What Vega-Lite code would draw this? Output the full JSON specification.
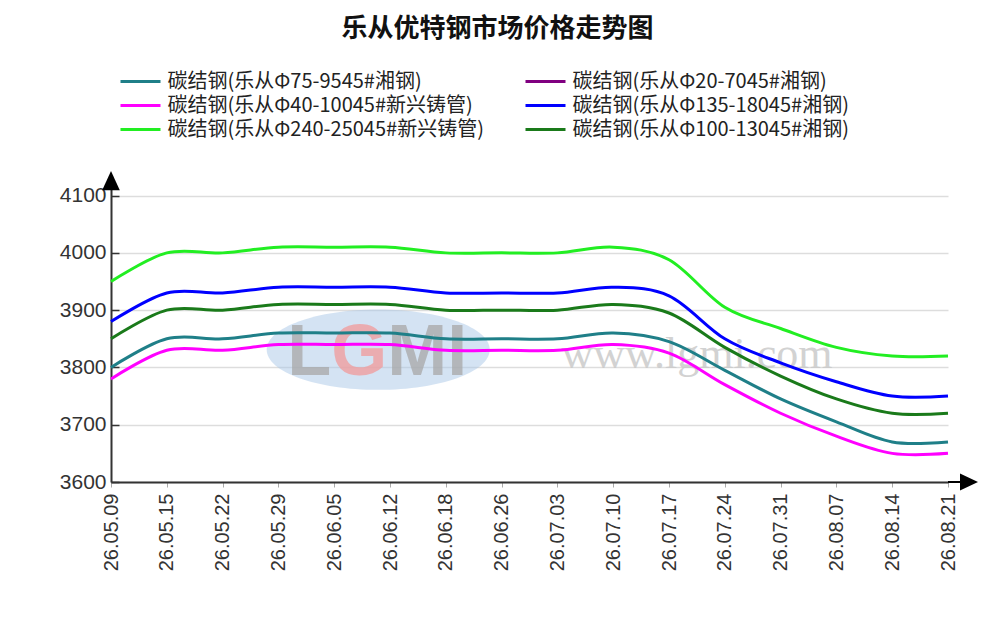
{
  "$schema": "https://vega.github.io/schema/vega-lite/v6.json",
  "autosize": {"type": "none"},
  "width": 837,
  "height": 295,
  "padding": {"left": 111, "top": 187, "right": 47, "bottom": 148},
  "background": "white",
  "title": {
    "text": "乐从优特钢市场价格走势图",
    "font": "Noto Sans CJK SC",
    "fontSize": 26,
    "fontWeight": "bold",
    "color": "#111111",
    "anchor": "middle",
    "frame": "group",
    "dx": -32,
    "offset": 26
  },
  "config": {
    "view": {"stroke": null},
    "axis": {"labelFont": "Liberation Sans", "labelColor": "#333333", "titleFont": "Liberation Sans"}
  },
  "datasets": {
    "prices": [
      {"date": "26.05.09", "series": "碳结钢(乐从Φ75-9545#湘钢)", "price": 3800},
      {"date": "26.05.15", "series": "碳结钢(乐从Φ75-9545#湘钢)", "price": 3850},
      {"date": "26.05.22", "series": "碳结钢(乐从Φ75-9545#湘钢)", "price": 3850},
      {"date": "26.05.29", "series": "碳结钢(乐从Φ75-9545#湘钢)", "price": 3860},
      {"date": "26.06.05", "series": "碳结钢(乐从Φ75-9545#湘钢)", "price": 3860},
      {"date": "26.06.12", "series": "碳结钢(乐从Φ75-9545#湘钢)", "price": 3860},
      {"date": "26.06.18", "series": "碳结钢(乐从Φ75-9545#湘钢)", "price": 3850},
      {"date": "26.06.26", "series": "碳结钢(乐从Φ75-9545#湘钢)", "price": 3850},
      {"date": "26.07.03", "series": "碳结钢(乐从Φ75-9545#湘钢)", "price": 3850},
      {"date": "26.07.10", "series": "碳结钢(乐从Φ75-9545#湘钢)", "price": 3860},
      {"date": "26.07.17", "series": "碳结钢(乐从Φ75-9545#湘钢)", "price": 3845},
      {"date": "26.07.24", "series": "碳结钢(乐从Φ75-9545#湘钢)", "price": 3795},
      {"date": "26.07.31", "series": "碳结钢(乐从Φ75-9545#湘钢)", "price": 3745},
      {"date": "26.08.07", "series": "碳结钢(乐从Φ75-9545#湘钢)", "price": 3705},
      {"date": "26.08.14", "series": "碳结钢(乐从Φ75-9545#湘钢)", "price": 3670},
      {"date": "26.08.21", "series": "碳结钢(乐从Φ75-9545#湘钢)", "price": 3670},

      {"date": "26.05.09", "series": "碳结钢(乐从Φ40-10045#新兴铸管)", "price": 3780},
      {"date": "26.05.15", "series": "碳结钢(乐从Φ40-10045#新兴铸管)", "price": 3830},
      {"date": "26.05.22", "series": "碳结钢(乐从Φ40-10045#新兴铸管)", "price": 3830},
      {"date": "26.05.29", "series": "碳结钢(乐从Φ40-10045#新兴铸管)", "price": 3840},
      {"date": "26.06.05", "series": "碳结钢(乐从Φ40-10045#新兴铸管)", "price": 3840},
      {"date": "26.06.12", "series": "碳结钢(乐从Φ40-10045#新兴铸管)", "price": 3840},
      {"date": "26.06.18", "series": "碳结钢(乐从Φ40-10045#新兴铸管)", "price": 3830},
      {"date": "26.06.26", "series": "碳结钢(乐从Φ40-10045#新兴铸管)", "price": 3830},
      {"date": "26.07.03", "series": "碳结钢(乐从Φ40-10045#新兴铸管)", "price": 3830},
      {"date": "26.07.10", "series": "碳结钢(乐从Φ40-10045#新兴铸管)", "price": 3840},
      {"date": "26.07.17", "series": "碳结钢(乐从Φ40-10045#新兴铸管)", "price": 3825},
      {"date": "26.07.24", "series": "碳结钢(乐从Φ40-10045#新兴铸管)", "price": 3770},
      {"date": "26.07.31", "series": "碳结钢(乐从Φ40-10045#新兴铸管)", "price": 3720},
      {"date": "26.08.07", "series": "碳结钢(乐从Φ40-10045#新兴铸管)", "price": 3680},
      {"date": "26.08.14", "series": "碳结钢(乐从Φ40-10045#新兴铸管)", "price": 3650},
      {"date": "26.08.21", "series": "碳结钢(乐从Φ40-10045#新兴铸管)", "price": 3650},

      {"date": "26.05.09", "series": "碳结钢(乐从Φ135-18045#湘钢)", "price": 3880},
      {"date": "26.05.15", "series": "碳结钢(乐从Φ135-18045#湘钢)", "price": 3930},
      {"date": "26.05.22", "series": "碳结钢(乐从Φ135-18045#湘钢)", "price": 3930},
      {"date": "26.05.29", "series": "碳结钢(乐从Φ135-18045#湘钢)", "price": 3940},
      {"date": "26.06.05", "series": "碳结钢(乐从Φ135-18045#湘钢)", "price": 3940},
      {"date": "26.06.12", "series": "碳结钢(乐从Φ135-18045#湘钢)", "price": 3940},
      {"date": "26.06.18", "series": "碳结钢(乐从Φ135-18045#湘钢)", "price": 3930},
      {"date": "26.06.26", "series": "碳结钢(乐从Φ135-18045#湘钢)", "price": 3930},
      {"date": "26.07.03", "series": "碳结钢(乐从Φ135-18045#湘钢)", "price": 3930},
      {"date": "26.07.10", "series": "碳结钢(乐从Φ135-18045#湘钢)", "price": 3940},
      {"date": "26.07.17", "series": "碳结钢(乐从Φ135-18045#湘钢)", "price": 3925},
      {"date": "26.07.24", "series": "碳结钢(乐从Φ135-18045#湘钢)", "price": 3850},
      {"date": "26.07.31", "series": "碳结钢(乐从Φ135-18045#湘钢)", "price": 3808},
      {"date": "26.08.07", "series": "碳结钢(乐从Φ135-18045#湘钢)", "price": 3775},
      {"date": "26.08.14", "series": "碳结钢(乐从Φ135-18045#湘钢)", "price": 3750},
      {"date": "26.08.21", "series": "碳结钢(乐从Φ135-18045#湘钢)", "price": 3750},

      {"date": "26.05.09", "series": "碳结钢(乐从Φ240-25045#新兴铸管)", "price": 3950},
      {"date": "26.05.15", "series": "碳结钢(乐从Φ240-25045#新兴铸管)", "price": 4000},
      {"date": "26.05.22", "series": "碳结钢(乐从Φ240-25045#新兴铸管)", "price": 4000},
      {"date": "26.05.29", "series": "碳结钢(乐从Φ240-25045#新兴铸管)", "price": 4010},
      {"date": "26.06.05", "series": "碳结钢(乐从Φ240-25045#新兴铸管)", "price": 4010},
      {"date": "26.06.12", "series": "碳结钢(乐从Φ240-25045#新兴铸管)", "price": 4010},
      {"date": "26.06.18", "series": "碳结钢(乐从Φ240-25045#新兴铸管)", "price": 4000},
      {"date": "26.06.26", "series": "碳结钢(乐从Φ240-25045#新兴铸管)", "price": 4000},
      {"date": "26.07.03", "series": "碳结钢(乐从Φ240-25045#新兴铸管)", "price": 4000},
      {"date": "26.07.10", "series": "碳结钢(乐从Φ240-25045#新兴铸管)", "price": 4010},
      {"date": "26.07.17", "series": "碳结钢(乐从Φ240-25045#新兴铸管)", "price": 3988},
      {"date": "26.07.24", "series": "碳结钢(乐从Φ240-25045#新兴铸管)", "price": 3905},
      {"date": "26.07.31", "series": "碳结钢(乐从Φ240-25045#新兴铸管)", "price": 3868},
      {"date": "26.08.07", "series": "碳结钢(乐从Φ240-25045#新兴铸管)", "price": 3835},
      {"date": "26.08.14", "series": "碳结钢(乐从Φ240-25045#新兴铸管)", "price": 3820},
      {"date": "26.08.21", "series": "碳结钢(乐从Φ240-25045#新兴铸管)", "price": 3820},

      {"date": "26.05.09", "series": "碳结钢(乐从Φ100-13045#湘钢)", "price": 3850},
      {"date": "26.05.15", "series": "碳结钢(乐从Φ100-13045#湘钢)", "price": 3900},
      {"date": "26.05.22", "series": "碳结钢(乐从Φ100-13045#湘钢)", "price": 3900},
      {"date": "26.05.29", "series": "碳结钢(乐从Φ100-13045#湘钢)", "price": 3910},
      {"date": "26.06.05", "series": "碳结钢(乐从Φ100-13045#湘钢)", "price": 3910},
      {"date": "26.06.12", "series": "碳结钢(乐从Φ100-13045#湘钢)", "price": 3910},
      {"date": "26.06.18", "series": "碳结钢(乐从Φ100-13045#湘钢)", "price": 3900},
      {"date": "26.06.26", "series": "碳结钢(乐从Φ100-13045#湘钢)", "price": 3900},
      {"date": "26.07.03", "series": "碳结钢(乐从Φ100-13045#湘钢)", "price": 3900},
      {"date": "26.07.10", "series": "碳结钢(乐从Φ100-13045#湘钢)", "price": 3910},
      {"date": "26.07.17", "series": "碳结钢(乐从Φ100-13045#湘钢)", "price": 3895},
      {"date": "26.07.24", "series": "碳结钢(乐从Φ100-13045#湘钢)", "price": 3835},
      {"date": "26.07.31", "series": "碳结钢(乐从Φ100-13045#湘钢)", "price": 3785},
      {"date": "26.08.07", "series": "碳结钢(乐从Φ100-13045#湘钢)", "price": 3745},
      {"date": "26.08.14", "series": "碳结钢(乐从Φ100-13045#湘钢)", "price": 3720},
      {"date": "26.08.21", "series": "碳结钢(乐从Φ100-13045#湘钢)", "price": 3720}
    ]
  },
  "layer": [
    {
      "data": {"values": [{"mark": "ellipse"}]},
      "mark": {"type": "point", "shape": "M-1,0A1,0.36 0 1,1 1,0A1,0.36 0 1,1 -1,0Z", "filled": true, "color": "#a9c8e8", "opacity": 0.5, "size": 49729},
      "encoding": {
        "x": {"datum": "26.06.05", "type": "ordinal"},
        "y": {"datum": 3831, "type": "quantitative"},
        "xOffset": {"value": 44}
      }
    },
    {
      "data": {"values": [{"label": "L"}]},
      "mark": {"type": "text", "font": "Liberation Sans", "fontWeight": "bold", "fontSize": 72, "color": "#a8a8a8", "opacity": 0.75, "dx": -47, "baseline": "alphabetic", "align": "left"},
      "encoding": {
        "x": {"datum": "26.06.05", "type": "ordinal"},
        "y": {"datum": 3787, "type": "quantitative"},
        "text": {"field": "label"}
      }
    },
    {
      "data": {"values": [{"label": "G"}]},
      "mark": {"type": "text", "font": "Liberation Sans", "fontWeight": "bold", "fontSize": 72, "color": "#f29a9a", "opacity": 0.75, "dx": -3, "baseline": "alphabetic", "align": "left"},
      "encoding": {
        "x": {"datum": "26.06.05", "type": "ordinal"},
        "y": {"datum": 3787, "type": "quantitative"},
        "text": {"field": "label"}
      }
    },
    {
      "data": {"values": [{"label": "MI"}]},
      "mark": {"type": "text", "font": "Liberation Sans", "fontWeight": "bold", "fontSize": 72, "color": "#a8a8a8", "opacity": 0.75, "dx": 53, "baseline": "alphabetic", "align": "left"},
      "encoding": {
        "x": {"datum": "26.06.05", "type": "ordinal"},
        "y": {"datum": 3787, "type": "quantitative"},
        "text": {"field": "label"}
      }
    },
    {
      "data": {"values": [{"label": "www.lgmi.com"}]},
      "mark": {"type": "text", "font": "Liberation Serif", "fontSize": 44, "color": "#c8c8c8", "opacity": 0.8, "dx": 28, "baseline": "middle", "align": "center"},
      "encoding": {
        "x": {"datum": "26.07.17", "type": "ordinal"},
        "y": {"datum": 3822, "type": "quantitative"},
        "text": {"field": "label"}
      }
    },
    {
      "data": {"name": "prices"},
      "mark": {"type": "line", "interpolate": "cardinal", "strokeWidth": 3},
      "encoding": {
        "x": {
          "field": "date",
          "type": "ordinal",
          "sort": null,
          "scale": {
            "type": "point",
            "padding": 0,
            "domain": ["26.05.09", "26.05.15", "26.05.22", "26.05.29", "26.06.05", "26.06.12", "26.06.18", "26.06.26", "26.07.03", "26.07.10", "26.07.17", "26.07.24", "26.07.31", "26.08.07", "26.08.14", "26.08.21"]
          },
          "axis": {
            "title": null,
            "labelAngle": 270,
            "labelFontSize": 20,
            "labelPadding": 6,
            "tickSize": 5,
            "tickColor": "#aaaaaa",
            "tickWidth": 1,
            "domainColor": "#333333",
            "domainWidth": 2,
            "grid": false
          }
        },
        "y": {
          "field": "price",
          "type": "quantitative",
          "scale": {"domain": [3600, 4115], "nice": false, "zero": false},
          "axis": {
            "title": null,
            "format": "d",
            "values": [3600, 3700, 3800, 3900, 4000, 4100],
            "labelFontSize": 21,
            "labelPadding": 13,
            "tickSize": -8,
            "tickColor": "#333333",
            "tickWidth": 1.5,
            "domainColor": "#333333",
            "domainWidth": 2,
            "grid": true,
            "gridColor": "#dddddd",
            "gridWidth": 1.5
          }
        },
        "color": {
          "field": "series",
          "type": "nominal",
          "scale": {
            "domain": [
              "碳结钢(乐从Φ75-9545#湘钢)",
              "碳结钢(乐从Φ20-7045#湘钢)",
              "碳结钢(乐从Φ40-10045#新兴铸管)",
              "碳结钢(乐从Φ135-18045#湘钢)",
              "碳结钢(乐从Φ240-25045#新兴铸管)",
              "碳结钢(乐从Φ100-13045#湘钢)"
            ],
            "range": ["#1f7f88", "#800080", "#ff00ff", "#0000ff", "#22ee22", "#1a7a1a"]
          },
          "legend": {
            "title": null,
            "orient": "none",
            "direction": "horizontal",
            "legendX": 15.5,
            "legendY": -119.5,
            "columns": 2,
            "padding": 0,
            "rowPadding": 0,
            "columnPadding": 35,
            "symbolType": "M-1.6,0L1.6,0",
            "symbolSize": 625,
            "symbolStrokeWidth": 3,
            "labelOffset": 13,
            "labelFont": "Noto Sans CJK SC",
            "labelFontSize": 20,
            "labelColor": "#222222",
            "labelLimit": 600
          }
        }
      }
    },
    {
      "data": {"values": [{"mark": "yarrow"}]},
      "mark": {"type": "point", "shape": "M-0.55,0.2L0,-1L0.55,0.2Z", "filled": true, "color": "#000000", "opacity": 1, "size": 1024},
      "encoding": {
        "x": {"datum": "26.05.09", "type": "ordinal"},
        "y": {"datum": 4115, "type": "quantitative"}
      }
    },
    {
      "data": {"values": [{"mark": "xarrow"}]},
      "mark": {"type": "point", "shape": "M-1,-0.07L-0.2,-0.07L-0.2,-0.57L1,0L-0.2,0.57L-0.2,0.07L-1,0.07Z", "filled": true, "color": "#000000", "opacity": 1, "size": 900},
      "encoding": {
        "x": {"datum": "26.08.21", "type": "ordinal"},
        "y": {"datum": 3600, "type": "quantitative"},
        "xOffset": {"value": 15}
      }
    }
  ]
}
